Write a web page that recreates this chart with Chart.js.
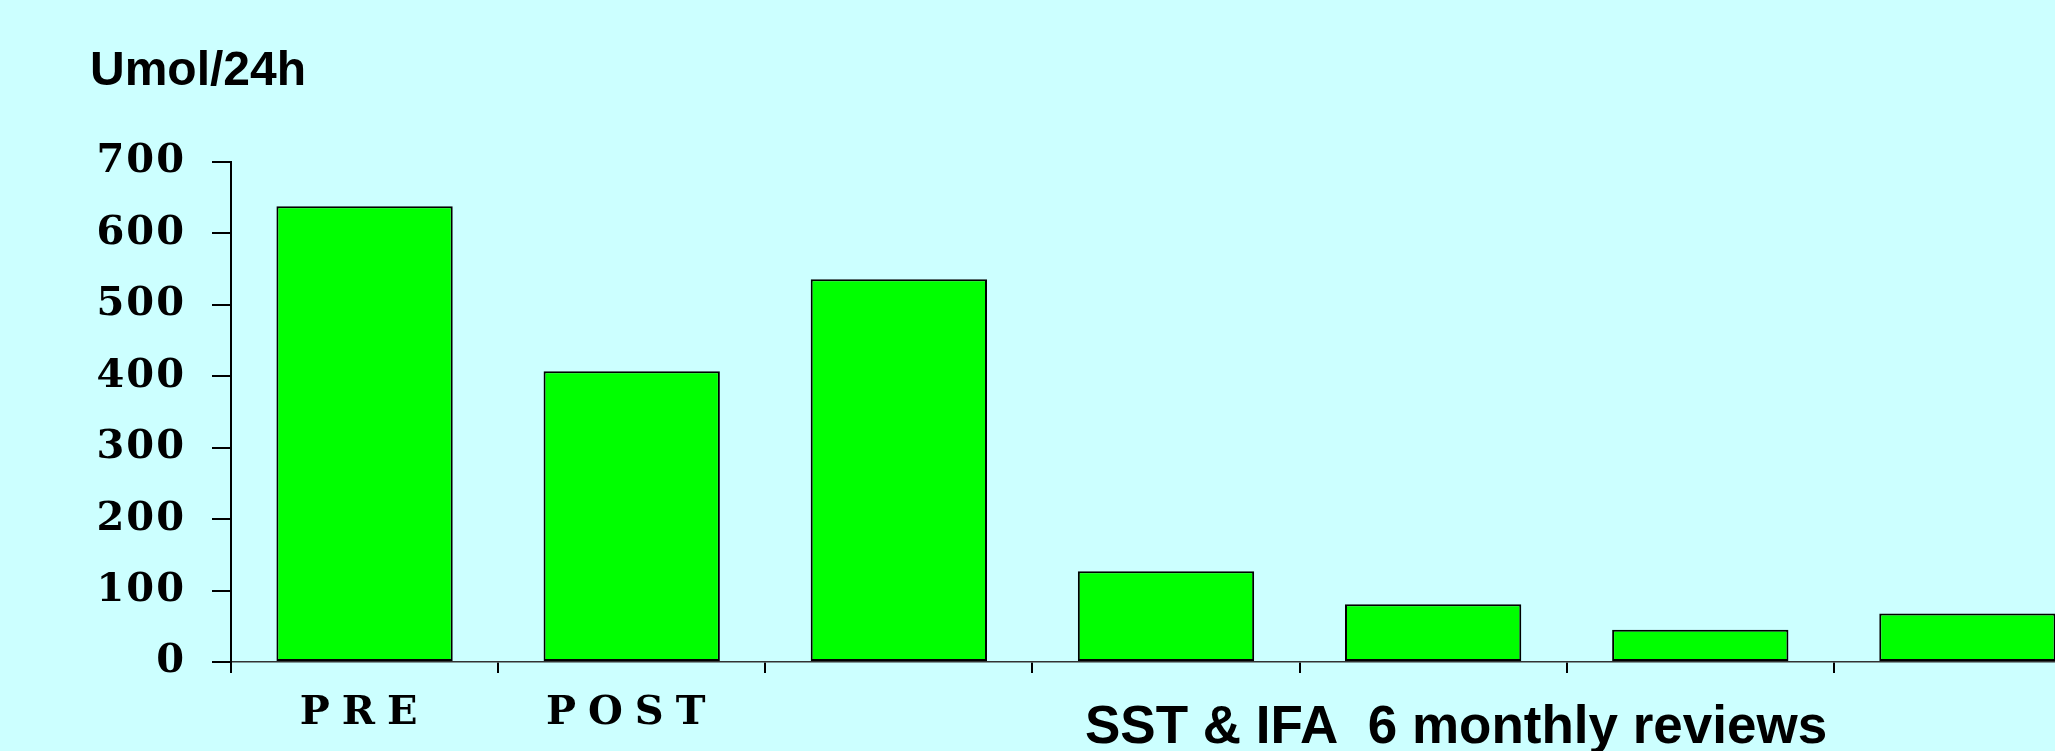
<!DOCTYPE html>
<html>
<head>
<meta charset="utf-8">
<script src="https://cdn.jsdelivr.net/npm/chart.js@4/dist/chart.umd.min.js"></script>
<style>
  html, body { margin: 0; padding: 0; background: #CCFFFF; overflow: hidden; }
  #wrap { position: relative; width: 2101px; height: 751px; }
</style>
</head>
<body>
<div id="wrap"><canvas id="chart" width="2101" height="751"></canvas></div>
<script>
// Urinary excretion (Umol/24h) before/after surgery and at 6-monthly reviews
const categories = ['PRE', 'POST', '', '', '', '', ''];
const excretion = [638, 407, 536, 127, 81, 45, 68];
const yTicks = [0, 100, 200, 300, 400, 500, 600, 700];
const unitLabel = 'Umol/24h';
const reviewCaption = 'SST & IFA  6 monthly reviews';

const BG = '#CCFFFF';
const SERIF = '"DejaVu Serif", "Liberation Serif", serif';
const SANS = '"Liberation Sans", Arial, sans-serif';

// Canvas letter spacing for the wide serif axis labels
const spacing = {
  id: 'spacing',
  beforeDraw(chart) {
    const ctx = chart.ctx;
    ctx.save();
    ctx.fillStyle = BG;
    ctx.fillRect(0, 0, chart.width, chart.height);
    ctx.restore();
    ctx.letterSpacing = '2px';
  },
  afterDatasetsDraw(chart) {
    chart.ctx.letterSpacing = '12px';
  },
  afterDraw(chart) {
    const ctx = chart.ctx;
    ctx.letterSpacing = '0px';
    ctx.save();
    ctx.fillStyle = '#000';
    ctx.textBaseline = 'alphabetic';
    ctx.textAlign = 'left';
    ctx.font = 'bold 48px ' + SANS;
    ctx.fillText(unitLabel, 90, 85);
    ctx.font = 'bold 53px ' + SANS;
    ctx.fillText(reviewCaption, 1085, 743);
    ctx.restore();
  }
};

new Chart(document.getElementById('chart'), {
  type: 'bar',
  data: {
    labels: categories,
    datasets: [{
      data: excretion,
      backgroundColor: '#00FF00',
      borderColor: '#000000',
      borderWidth: 2,
      borderSkipped: false,
      barPercentage: 0.66,
      categoryPercentage: 1.0
    }]
  },
  options: {
    responsive: false,
    animation: false,
    events: [],
    layout: { padding: { top: 162, left: 0, right: 0, bottom: 0 } },
    plugins: { legend: { display: false }, tooltip: { enabled: false }, title: { display: false } },
    scales: {
      x: {
        offset: true,
        grid: { display: true, offset: true, drawOnChartArea: false, drawTicks: true,
                tickLength: 11, color: '#000', lineWidth: 2 },
        border: { display: true, color: '#333', width: 1.5 },
        ticks: { z: 1, color: '#000', padding: 17, maxRotation: 0, autoSkip: false,
                 font: { family: SERIF, weight: 'bold', size: 40 } },
        afterFit(scale) { scale.height = 89; }
      },
      y: {
        min: 0, max: 700,
        afterBuildTicks(scale) { scale.ticks = yTicks.map(v => ({ value: v })); },
        grid: { display: true, drawOnChartArea: false, drawTicks: true,
                tickLength: 19, color: '#000', lineWidth: 2 },
        border: { display: true, color: '#000', width: 2 },
        ticks: { color: '#000', padding: 26,
                 font: { family: SERIF, weight: 'bold', size: 40 } },
        afterFit(scale) { scale.width = 231; }
      }
    }
  },
  plugins: [spacing]
});
</script>
</body>
</html>
